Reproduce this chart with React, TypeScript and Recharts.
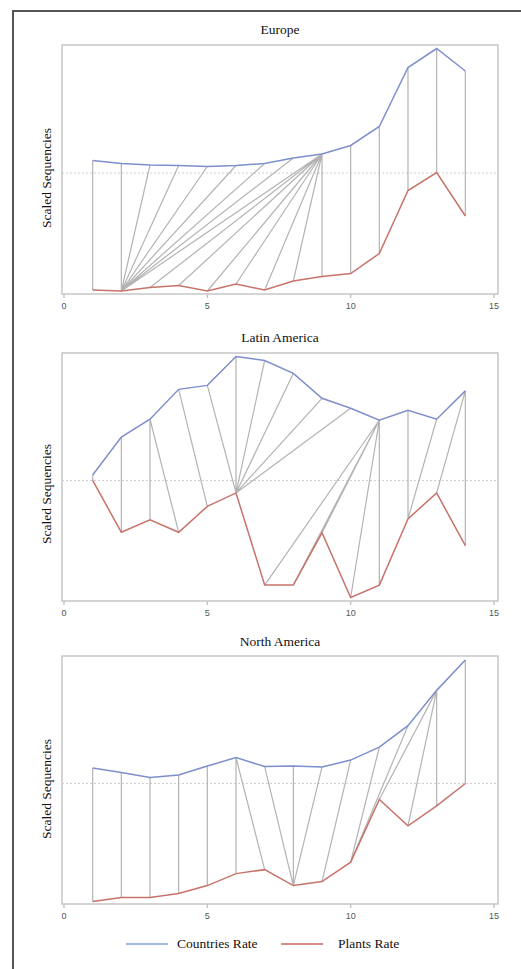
import React from 'react';
import { ComposedChart, Line, XAxis, YAxis, ReferenceLine, ReferenceArea } from 'recharts';

// time index shared by all panels
const steps = [1, 2, 3, 4, 5, 6, 7, 8, 9, 10, 11, 12, 13, 14];
const xTicks = [0, 5, 10, 15];

const europeCountries = [0.25, 0.19, 0.16, 0.15, 0.13, 0.15, 0.19, 0.3, 0.38, 0.55, 0.93, 2.11, 2.49, 2.04];
const europePlants = [-2.34, -2.36, -2.29, -2.25, -2.36, -2.22, -2.34, -2.16, -2.07, -2.01, -1.61, -0.35, 0.01, -0.86];
// warping path: [countries index, plants index]
const europePath = [
  [1, 1], [2, 2], [3, 2], [4, 2], [5, 2], [6, 2], [7, 2], [8, 2], [9, 2],
  [9, 3], [9, 4], [9, 5], [9, 6], [9, 7], [9, 8], [9, 9],
  [10, 10], [11, 11], [12, 12], [13, 13], [14, 14],
];

const latinCountries = [0.11, 0.87, 1.23, 1.83, 1.91, 2.49, 2.41, 2.15, 1.65, 1.45, 1.21, 1.41, 1.23, 1.8];
const latinPlants = [0.0, -1.04, -0.79, -1.04, -0.52, -0.25, -2.1, -2.1, -1.05, -2.35, -2.1, -0.77, -0.25, -1.31];
const latinPath = [
  [1, 1], [2, 2], [3, 3], [3, 4], [4, 5], [5, 6], [6, 6], [7, 6], [8, 6], [9, 6], [10, 6],
  [11, 7], [11, 8], [11, 9], [11, 10], [11, 11], [12, 12], [13, 12], [14, 13], [14, 14],
];

const northCountries = [0.31, 0.22, 0.12, 0.17, 0.35, 0.52, 0.34, 0.35, 0.33, 0.47, 0.73, 1.16, 1.87, 2.48];
const northPlants = [-2.37, -2.29, -2.29, -2.21, -2.05, -1.81, -1.73, -2.05, -1.97, -1.58, -0.32, -0.85, -0.45, 0.0];
const northPath = [
  [1, 1], [2, 2], [3, 3], [4, 4], [5, 5], [6, 6], [6, 7], [7, 8], [8, 8], [9, 8],
  [10, 9], [11, 10], [12, 10], [13, 11], [13, 12], [13, 13], [14, 14],
];

const X_DOMAIN: [number, number] = [-0.07, 15.14];
const Y_DOMAIN: [number, number] = [-2.42, 2.56];

const BLUE = '#7d8fcc';
const RED = '#c7736b';
const GREY = '#b3b3b3';
const FRAME = '#c6c6c6';
const SERIF = '"Liberation Serif", "Times New Roman", serif';

interface PanelProps {
  title: string;
  countries: number[];
  plants: number[];
  path: number[][];
  plotTop: number;
  plotHeight: number;
  titleY: number;
  labelY: number;
}

const Panel: React.FC<PanelProps> = ({ title, countries, plants, path, plotTop, plotHeight, titleY, labelY }) => {
  const rows = steps.map((t, i) => ({ t, countries: countries[i], plants: plants[i] }));
  // connectors, broken by null gaps
  const links: { t: number; v: number | null }[] = [];
  path.forEach(([a, b]) => {
    links.push({ t: a, v: countries[a - 1] });
    links.push({ t: b, v: plants[b - 1] });
    links.push({ t: b, v: null });
  });

  return (
    <>
      <div
        style={{
          position: 'absolute', left: 280, top: titleY, transform: 'translate(-50%, -50%)',
          fontFamily: SERIF, fontSize: 13.5, color: '#111', whiteSpace: 'nowrap',
        }}
      >
        {title}
      </div>
      <div
        style={{
          position: 'absolute', left: 47, top: labelY, transform: 'translate(-50%, -50%) rotate(-90deg)',
          fontFamily: SERIF, fontSize: 13.5, color: '#111', whiteSpace: 'nowrap',
        }}
      >
        Scaled Sequencies
      </div>
      <div style={{ position: 'absolute', left: 0, top: plotTop - 2 }}>
        <ComposedChart
          width={521}
          height={plotHeight + 28}
          data={rows}
          margin={{ top: 2, right: 23, left: 62, bottom: 0 }}
        >
          <XAxis
            dataKey="t"
            type="number"
            domain={X_DOMAIN}
            ticks={xTicks}
            allowDataOverflow
            axisLine={false}
            tickSize={4}
            tickMargin={5}
            height={26}
            tickLine={{ stroke: FRAME, strokeWidth: 1.5 }}
            tick={{ fill: '#555', fontSize: 9, fontFamily: '"Liberation Sans", Arial, sans-serif' }}
          />
          <YAxis hide type="number" domain={Y_DOMAIN} allowDataOverflow />
          <ReferenceArea
            x1={X_DOMAIN[0]} x2={X_DOMAIN[1]} y1={Y_DOMAIN[0]} y2={Y_DOMAIN[1]}
            fill="none" stroke={FRAME} strokeWidth={1.5} ifOverflow="visible"
          />
          <ReferenceLine y={0} stroke="#cfcfcf" strokeDasharray="2 2" />
          <Line
            data={links}
            dataKey="v"
            type="linear"
            stroke={GREY}
            strokeWidth={1.2}
            dot={false}
            connectNulls={false}
            isAnimationActive={false}
            legendType="none"
          />
          <Line dataKey="plants" type="linear" stroke={RED} strokeWidth={1.5} dot={false} isAnimationActive={false} />
          <Line dataKey="countries" type="linear" stroke={BLUE} strokeWidth={1.5} dot={false} isAnimationActive={false} />
        </ComposedChart>
      </div>
    </>
  );
};

export default function App() {
  return (
    <div style={{ position: 'fixed', left: 0, top: 0, width: 521, height: 969, overflow: 'hidden', background: '#fff' }}>
      <div
        style={{
          position: 'absolute', left: 12, top: 10, width: 700, height: 1200,
          borderLeft: '2px solid #555', borderTop: '2px solid #555',
        }}
      />
      <Panel title="Europe" countries={europeCountries} plants={europePlants} path={europePath}
        plotTop={45} plotHeight={249} titleY={30} labelY={178} />
      <Panel title="Latin America" countries={latinCountries} plants={latinPlants} path={latinPath}
        plotTop={353} plotHeight={248} titleY={338} labelY={494} />
      <Panel title="North America" countries={northCountries} plants={northPlants} path={northPath}
        plotTop={656} plotHeight={248} titleY={642} labelY={789} />
      <div
        style={{
          position: 'absolute', left: 0, top: 935, width: 521, height: 20,
          fontFamily: SERIF, fontSize: 13.5, color: '#111',
        }}
      >
        <svg width={521} height={20} style={{ position: 'absolute', left: 0, top: 0 }}>
          <line x1={126} x2={168} y1={9} y2={9} stroke="#7ea3dc" strokeWidth={1.5} />
          <line x1={281} x2={323} y1={9} y2={9} stroke="#c86864" strokeWidth={1.5} />
        </svg>
        <span style={{ position: 'absolute', left: 177, top: 1 }}>Countries Rate</span>
        <span style={{ position: 'absolute', left: 338, top: 1 }}>Plants Rate</span>
      </div>
    </div>
  );
}
